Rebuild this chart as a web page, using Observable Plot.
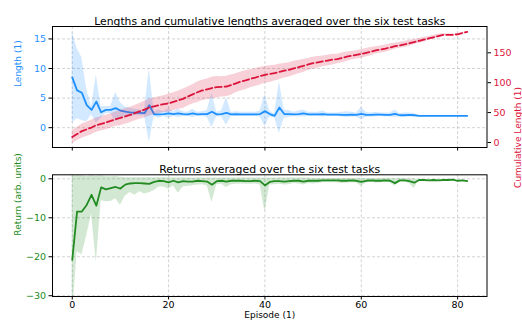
<!DOCTYPE html>
<html>
<head>
<meta charset="utf-8">
<script src="https://cdn.jsdelivr.net/npm/d3@7"></script>
<script src="https://cdn.jsdelivr.net/npm/@observablehq/plot@0.6"></script>
<style>
  html, body { margin: 0; padding: 0; background: #fff; }
  #chart { position: relative; width: 522px; height: 322px; background: #fff; overflow: hidden; }
  #chart svg { position: absolute; left: 0; background: transparent; }
</style>
</head>
<body>
<div id="chart"></div>
<script>
// ---------- data ----------
const episodes = d3.range(0, 83);

const lengthMean = [8.5,6.3,5.9,3.8,3.0,4.4,2.6,3.0,3.0,3.3,2.9,2.7,2.6,2.55,2.5,2.45,3.8,2.25,2.25,2.3,
  2.4,2.3,2.4,2.3,2.25,2.4,2.25,2.3,2.3,2.7,2.25,2.3,2.5,2.25,2.3,2.25,2.25,2.25,2.25,2.3,
  2.8,2.3,2.0,3.4,2.3,2.3,2.25,2.3,2.4,2.25,2.25,2.25,2.3,2.2,2.2,2.2,2.15,2.15,2.2,2.15,
  2.35,2.15,2.15,2.2,2.2,2.15,2.15,2.35,2.1,2.1,2.15,2.1,2.0,2.0,2.0,2.0,2.0,2.0,2.0,2.0,2.0,2.0,2.0];
const lengthUpper = [16.2,13.4,11.8,6.5,3.5,8.9,3.6,3.6,3.6,6.0,4.2,3.5,3.3,3.1,3.0,2.9,10.0,2.6,3.0,2.7,
  3.2,2.7,3.1,2.7,2.6,3.1,2.6,2.7,2.9,5.8,2.6,2.8,5.1,2.6,2.7,2.6,2.6,2.6,2.6,2.8,
  5.6,2.8,2.3,7.8,3.0,2.9,2.6,2.8,3.0,2.6,2.6,2.6,2.8,2.5,2.5,2.5,2.6,2.7,2.6,2.5,
  3.4,2.6,2.5,2.6,2.5,2.5,2.5,3.0,2.4,2.5,2.5,2.4,2.0,2.0,2.0,2.0,2.0,2.0,2.0,2.0,2.0,2.0,2.0];
const lengthLower = [0.8,1.5,1.2,1.0,2.2,0.8,1.6,2.4,2.4,1.0,1.6,1.9,1.9,2.0,2.0,2.0,-2.5,1.9,1.6,1.9,
  1.6,1.9,1.7,1.9,1.9,1.7,1.9,1.9,1.7,0.0,1.9,1.8,0.4,1.9,1.9,1.9,1.9,1.9,1.9,1.8,
  0.2,1.8,1.7,-1.0,1.6,1.7,1.9,1.8,1.8,1.9,1.9,1.9,1.8,1.9,1.9,1.9,1.8,1.7,1.8,1.8,
  1.3,1.7,1.8,1.8,1.9,1.8,1.8,1.7,1.8,1.8,1.8,1.8,2.0,2.0,2.0,2.0,2.0,2.0,2.0,2.0,2.0,2.0,2.0];

const cumMean = [9,14,19,22,25,29,31,33.5,36,39,41,43.5,46,49,52,55,58.5,60.5,62.5,64,
  65.5,68,70.5,73,77,80.5,84,87,89,91,92.5,93,93.6,96,99,102,104,106.5,108.5,111,
  113,114.5,116,118,120,121.5,124,126,128,130.5,132.6,134,135.5,137,138.5,139.5,141.5,143.5,145,146.5,
  148,150,152,154,155.5,157,159,161,162.5,164,166,168,170,172,174,176,178,180,180,180,181,183,185];
const cumSpread = [11,11,12,12,12,12,12,12,12,12,13,13,13,13,13,14,14,14,14,14,
  15,15,15,16,16,16,17,17,17,18,18,17,17,17,16,16,16,15,15,15,
  14,14,13,13,12,12,12,11,11,10,10,10,9,9,9,8,8,8,7,7,
  7,7,7,6,6,6,6,5,5,5,5,4,4,4,3,3,3,2,2,1.5,1,1,1];

const returnMean = [-20.8,-8.4,-8.4,-6.7,-4.1,-6.9,-2.2,-2.7,-2.4,-2.1,-2.5,-1.5,-1.2,-1.1,-1.1,-1.2,-1.3,-0.8,-0.5,-0.6,
  -0.9,-0.5,-0.9,-0.6,-0.7,-0.7,-0.5,-0.6,-0.7,-1.5,-0.6,-0.5,-0.7,-0.5,-0.5,-0.5,-0.6,-0.6,-0.5,-0.6,
  -1.7,-0.8,-0.6,-0.6,-0.7,-0.6,-0.5,-0.5,-0.7,-0.5,-0.5,-0.5,-0.4,-0.4,-0.4,-0.4,-0.5,-0.5,-0.4,-0.5,
  -0.8,-0.5,-0.4,-0.5,-0.5,-0.4,-0.5,-1.1,-0.4,-0.4,-0.6,-1.0,-0.3,-0.3,-0.4,-0.3,-0.4,-0.3,-0.3,-0.2,-0.5,-0.4,-0.6];
const returnUpper = [0.8,0.8,0.8,0.5,0.8,0.6,0.8,0.5,0.5,0.6,0.4,0.3,0.3,0.3,0.3,0.3,0.3,0.3,0.3,0.3,
  0.3,0.2,0.2,0.2,0.2,0.2,0.2,0.2,0.2,0.2,0.2,0.2,0.2,0.2,0.2,0.2,0.2,0.2,0.2,0.2,
  0.2,0.2,0.2,0.2,0.2,0.2,0.2,0.2,0.2,0.2,0.1,0.1,0.1,0.1,0.1,0.1,0.1,0.1,0.1,0.1,
  0.1,0.1,0.1,0.1,0.1,0.1,0.1,0.0,0.1,0.1,0.0,0.0,-0.3,-0.3,-0.4,-0.3,-0.4,-0.3,-0.3,-0.2,-0.5,-0.4,-0.6];
const returnLower = [-36,-18.7,-19.5,-14.6,-9,-21.5,-5.6,-5.9,-5.8,-5.1,-6.8,-4.5,-3.5,-4.2,-3.3,-3.9,-3.6,-3.0,-2.1,-2.1,
  -2.6,-1.8,-3.7,-2.1,-1.9,-1.8,-1.6,-1.5,-1.8,-6.1,-1.5,-1.4,-2.2,-1.5,-1.4,-1.3,-1.4,-1.4,-1.3,-1.6,
  -8.5,-1.6,-1.5,-1.4,-1.6,-1.5,-1.2,-1.3,-1.6,-1.2,-1.3,-1.2,-1.0,-1.0,-1.0,-1.0,-1.2,-1.1,-1.0,-1.1,
  -1.9,-1.1,-0.9,-1.1,-1.0,-0.9,-1.0,-1.9,-0.8,-0.9,-1.2,-2.5,-0.3,-0.3,-0.4,-0.3,-0.4,-0.3,-0.3,-0.2,-0.5,-0.4,-0.6];

const xTicks = [0, 20, 40, 60, 80];
const lengthTicks = [0, 5, 10, 15];
const cumTicks = [0, 50, 100, 150];
const returnTicks = [0, -10, -20, -30];

const topTitle = "Lengths and cumulative lengths averaged over the six test tasks";
const bottomTitle = "Returns averaged over the six test tasks";
const lengthLabel = "Length (1)";
const cumLabel = "Cumulative Length (1)";
const returnLabel = "Return (arb. units)";
const xLabel = "Episode (1)";

// ---------- tables ----------
const lenData = episodes.map((e, i) => ({e, m: lengthMean[i], lo: lengthLower[i], hi: lengthUpper[i]}));
const cumData = episodes.map((e, i) => ({e, m: cumMean[i], lo: cumMean[i] - cumSpread[i], hi: cumMean[i] + cumSpread[i]}));
const retData = episodes.map((e, i) => ({e, m: returnMean[i], lo: returnLower[i], hi: returnUpper[i]}));

const BLUE = "#1E90FF", RED = "#DC143C", GREEN = "#228B22";
const W = 522, ML = 52, MR = 35.5;
const xDomain = [-4.1, 86.1];
const minus = d => d < 0 ? "\u2212" + Math.abs(d) : String(d);
const gridStyle = {stroke: "#b0b0b0", strokeOpacity: 0.7, strokeDasharray: "3,2", strokeWidth: 0.8};
const baseStyle = {fontFamily: "'DejaVu Sans', sans-serif", fontSize: "9px", background: "transparent", overflow: "visible"};

// ---------- top panel, left axis ----------
const topLeft = Plot.plot({
  width: W, height: 160, marginLeft: ML, marginRight: MR, marginTop: 26, marginBottom: 13,
  style: baseStyle,
  x: {domain: xDomain},
  y: {domain: [-3.35, 17.1]},
  marks: [
    Plot.gridX(xTicks, gridStyle),
    Plot.gridY(lengthTicks, gridStyle),
    Plot.areaY(lenData, {x: "e", y1: "lo", y2: "hi", fill: BLUE, fillOpacity: 0.2, clip: true}),
    Plot.lineY(lenData, {x: "e", y: "m", stroke: BLUE, strokeWidth: 1.8}),
    Plot.axisX(xTicks, {tickSize: 3.5, fill: "none", stroke: "black", label: null}),
    Plot.axisY(lengthTicks, {tickSize: 3.5, tickPadding: 3, fill: BLUE, stroke: "black", label: null, fontSize: 9.5}),
    Plot.text([lengthLabel], {text: d => d, frameAnchor: "left", dx: -34, rotate: -90, fill: BLUE, fontSize: 9}),
    Plot.text([topTitle], {text: d => d, frameAnchor: "top", dy: -9, fill: "black", fontSize: 10.8})
  ]
});
topLeft.style.top = "0px";

// ---------- top panel, right axis (twin) ----------
const topRight = Plot.plot({
  width: W, height: 160, marginLeft: ML, marginRight: MR, marginTop: 26, marginBottom: 13,
  style: baseStyle,
  x: {domain: xDomain, axis: null},
  y: {domain: [-8.4, 194]},
  marks: [
    Plot.areaY(cumData, {x: "e", y1: "lo", y2: "hi", fill: RED, fillOpacity: 0.2, clip: true}),
    Plot.lineY(cumData, {x: "e", y: "m", stroke: RED, strokeWidth: 1.8, strokeDasharray: "6.5,3"}),
    Plot.axisY(cumTicks, {anchor: "right", tickSize: 3.5, tickPadding: 3, fill: RED, stroke: "black", label: null, fontSize: 9.5}),
    Plot.text([cumLabel], {text: d => d, frameAnchor: "right", dx: 31.5, rotate: -90, fill: RED, fontSize: 9}),
    Plot.frame({stroke: "black", strokeWidth: 1})
  ]
});
topRight.style.top = "0px";

// ---------- bottom panel ----------
const bottom = Plot.plot({
  width: W, height: 172, marginLeft: ML, marginRight: MR, marginTop: 24.3, marginBottom: 26,
  style: baseStyle,
  x: {domain: xDomain},
  y: {domain: [-30.2, 1.03]},
  marks: [
    Plot.gridX(xTicks, gridStyle),
    Plot.gridY(returnTicks, gridStyle),
    Plot.areaY(retData, {x: "e", y1: "lo", y2: "hi", fill: GREEN, fillOpacity: 0.2, clip: true}),
    Plot.lineY(retData, {x: "e", y: "m", stroke: GREEN, strokeWidth: 1.8, clip: true}),
    Plot.axisX(xTicks, {tickSize: 3.5, tickPadding: 1, fill: "black", stroke: "black", label: null, fontSize: 9.5}),
    Plot.axisY(returnTicks, {tickSize: 3.5, tickPadding: 3, fill: GREEN, stroke: "black", label: null, tickFormat: minus, fontSize: 9.5}),
    Plot.text([returnLabel], {text: d => d, frameAnchor: "left", dx: -34, rotate: -90, fill: GREEN, fontSize: 9}),
    Plot.text([xLabel], {text: d => d, frameAnchor: "bottom", dy: 21.5, fill: "black", fontSize: 9}),
    Plot.text([bottomTitle], {text: d => d, frameAnchor: "top", dy: -9.5, fill: "black", fontSize: 10.9}),
    Plot.frame({stroke: "black", strokeWidth: 1})
  ]
});
bottom.style.top = "150px";

const chart = document.getElementById("chart");
chart.append(topLeft, topRight, bottom);
</script>
</body>
</html>
